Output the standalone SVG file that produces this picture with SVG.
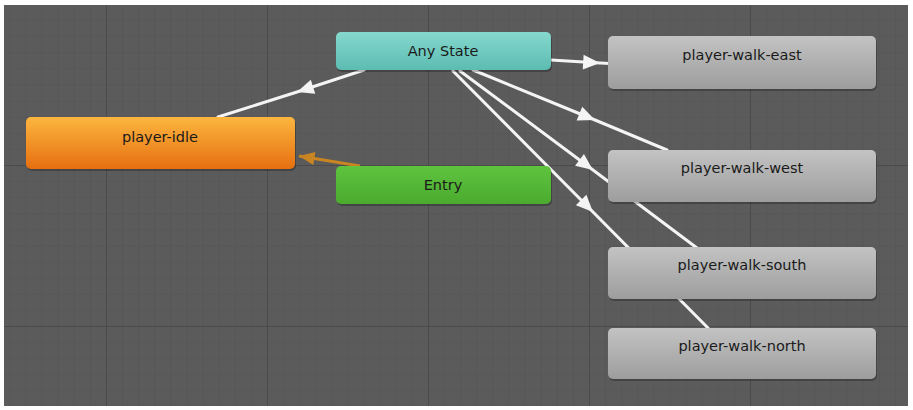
<svg xmlns="http://www.w3.org/2000/svg" width="913" height="410" viewBox="0 0 913 410">
<style>
.lbl{font-family:"DejaVu Sans","Liberation Sans",sans-serif;font-size:14.5px;fill:#1a1a1a;text-anchor:middle}
.edge{fill:none;stroke:#f4f4f4;stroke-width:3;stroke-linecap:round}
.entry-edge{fill:none;stroke:#c88522;stroke-width:3}
.shadow{fill:#000;opacity:0.25}
</style>
<defs>
<pattern id="minor" width="16.1" height="16.1" patternUnits="userSpaceOnUse" x="106" y="4">
<path d="M0,0 H16.1 M0,0 V16.1" stroke="#535353" stroke-width="1" fill="none"/>
</pattern>
<pattern id="major" width="161" height="161" patternUnits="userSpaceOnUse" x="106" y="4">
<path d="M0,0 H161 M0,0 V161" stroke="#474747" stroke-width="1.5" fill="none"/>
</pattern>
<linearGradient id="gOrange" x1="0" y1="0" x2="0" y2="1">
<stop offset="0" stop-color="#fcb63f"/><stop offset="1" stop-color="#e66f10"/>
</linearGradient>
<linearGradient id="gTeal" x1="0" y1="0" x2="0" y2="1">
<stop offset="0" stop-color="#86d8ce"/><stop offset="1" stop-color="#5cbcb1"/>
</linearGradient>
<linearGradient id="gGreen" x1="0" y1="0" x2="0" y2="1">
<stop offset="0" stop-color="#5fc33f"/><stop offset="1" stop-color="#4aab2e"/>
</linearGradient>
<linearGradient id="gGray" x1="0" y1="0" x2="0" y2="1">
<stop offset="0" stop-color="#c3c3c3"/><stop offset="1" stop-color="#9d9d9d"/>
</linearGradient>
<marker id="arrW" markerUnits="userSpaceOnUse" markerWidth="20" markerHeight="20" viewBox="-17 -8 19 16" refX="0" refY="0" orient="auto">
<path d="M0,0 L-16,-7 L-16,7 Z" fill="#f4f4f4"/>
</marker>
<marker id="arrO" markerUnits="userSpaceOnUse" markerWidth="20" markerHeight="20" viewBox="-16 -8 18 16" refX="0" refY="0" orient="auto">
<path d="M0,0 L-14,-6 L-14,6 Z" fill="#c88522"/>
</marker>
</defs>
<rect x="0" y="0" width="913" height="410" fill="#ffffff"/>
<rect x="4" y="5" width="904" height="401" fill="#5b5b5b"/>
<rect x="4" y="5" width="904" height="401" fill="url(#minor)"/>
<rect x="4" y="5" width="904" height="401" fill="url(#major)"/>

<g id="connectors">
<path class="edge" d="M364,70 L297,92 L218,117" marker-mid="url(#arrW)"/>
<path class="entry-edge" d="M360,166 L299,156" marker-end="url(#arrO)"/>
<path class="edge" d="M551,60 L600,63 L610,63.5" marker-mid="url(#arrW)"/>
<path class="edge" d="M473,70 L595,120 L667,150" marker-mid="url(#arrW)"/>
<path class="edge" d="M460,71 L593,170 L697,248" marker-mid="url(#arrW)"/>
<path class="edge" d="M453,71 L593,212 L708,328" marker-mid="url(#arrW)"/>
</g>

<g id="player-idle">
<rect class="shadow" x="27" y="119" width="269" height="52" rx="5"/>
<rect x="26" y="117" width="269" height="52" rx="5" fill="url(#gOrange)"/>
<text class="lbl" x="160" y="142">player-idle</text>
</g>
<g id="any-state">
<rect class="shadow" x="337" y="34" width="215" height="38" rx="5"/>
<rect x="336" y="32" width="215" height="38" rx="5" fill="url(#gTeal)"/>
<text class="lbl" x="443" y="56">Any State</text>
</g>
<g id="entry">
<rect class="shadow" x="337" y="168" width="215" height="38" rx="5"/>
<rect x="336" y="166" width="215" height="38" rx="5" fill="url(#gGreen)"/>
<text class="lbl" x="443" y="190">Entry</text>
</g>
<g id="player-walk-east">
<rect class="shadow" x="609" y="38" width="268" height="53" rx="5"/>
<rect x="608" y="36" width="268" height="53" rx="5" fill="url(#gGray)"/>
<text class="lbl" x="742" y="60">player-walk-east</text>
</g>
<g id="player-walk-west">
<rect class="shadow" x="609" y="152" width="268" height="52" rx="5"/>
<rect x="608" y="150" width="268" height="52" rx="5" fill="url(#gGray)"/>
<text class="lbl" x="742" y="173">player-walk-west</text>
</g>
<g id="player-walk-south">
<rect class="shadow" x="609" y="249" width="268" height="52" rx="5"/>
<rect x="608" y="247" width="268" height="52" rx="5" fill="url(#gGray)"/>
<text class="lbl" x="742" y="270">player-walk-south</text>
</g>
<g id="player-walk-north">
<rect class="shadow" x="609" y="330" width="268" height="51" rx="5"/>
<rect x="608" y="328" width="268" height="51" rx="5" fill="url(#gGray)"/>
<text class="lbl" x="742" y="351">player-walk-north</text>
</g>
</svg>
